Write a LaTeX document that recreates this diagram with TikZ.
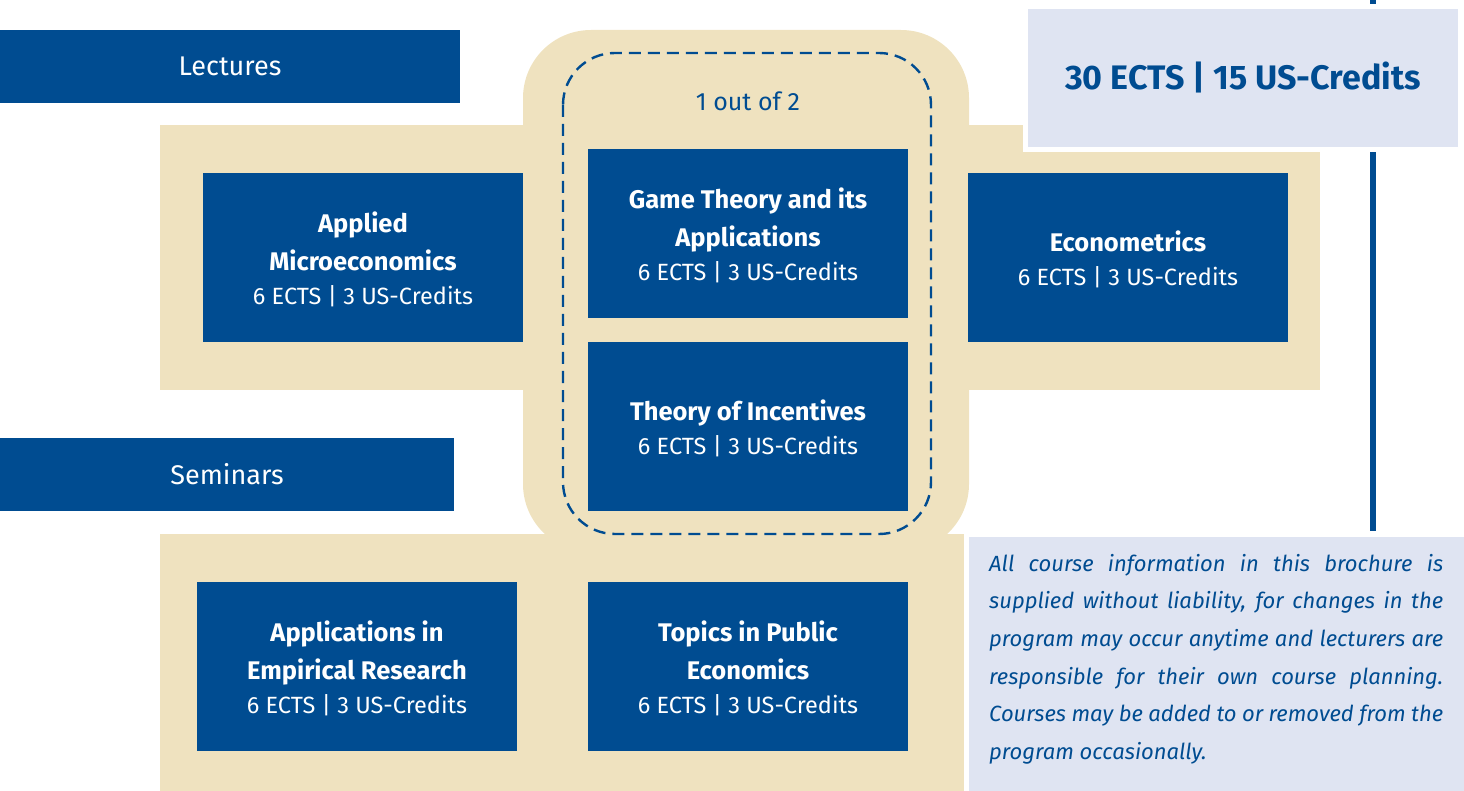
\documentclass[tikz,border=0pt]{standalone}
\usepackage{fontspec}
\setmainfont{Fira Sans}
\definecolor{uniblue}{HTML}{004C91}
\definecolor{beige}{HTML}{EFE2BF}
\definecolor{paleblue}{HTML}{DFE4F2}
\newcommand\ttl[1]{{\bfseries\fontsize{25.5}{34}\selectfont #1}}
\newcommand\topstrut{\rule{0pt}{25pt}}
\tikzset{
  course/.style={fill=uniblue, text=white, minimum width=320pt, minimum height=169pt,
    inner sep=0pt, align=center, font=\fontsize{23.5}{34}\selectfont},
  catbar/.style={fill=uniblue, text=white, minimum height=73pt, inner sep=0pt,
    font=\fontsize{27}{34}\selectfont},
  palebox/.style={fill=paleblue, draw=white, line width=5pt, inner sep=0pt},
  beigearea/.style={fill=beige},
  choiceline/.style={draw=uniblue, line width=2.4pt, dash pattern=on 12pt off 7pt, rounded corners=52pt},
}
\begin{document}
\begin{tikzpicture}[x=1pt,y=-1pt]
\useasboundingbox (0,0) rectangle (1464,791);
% vertical rule
\coordinate (vtop) at (1372.5,0);
\coordinate (vbot) at (1372.5,531);
\draw[uniblue, line width=6pt] (vtop) -- (vbot);
% beige areas
\fill[beigearea] (160,125) rectangle (1320,390);
\fill[beigearea, rounded corners=68pt] (523,30) rectangle (969,552);
\fill[beigearea] (160,534) rectangle (965,791);
% pale boxes
\node[palebox, minimum width=435pt, minimum height=143pt] (total) at (1243,78)
  {\color{uniblue}\bfseries\fontsize{34}{40}\selectfont 30 ECTS | 15 US-Credits};
\node[palebox, minimum width=503.5pt, minimum height=261.5pt] (infobox) at (1218.25,665.25) {};
\node[anchor=north west, inner sep=0pt, text width=454pt, align=justify, text=uniblue,
  font=\itshape\fontsize{22}{37.6}\selectfont] (disclaimer) at (989,554)
  {All course information in this brochure is\linebreak
   supplied without liability, for changes in the\linebreak
   program may occur anytime and lecturers are\linebreak
   responsible for their own course planning.\linebreak
   Courses may be added to or removed from the\linebreak
   program occasionally.};
% category bars
\node[catbar, minimum width=460pt] (lectures) at (230,66.5) {Lectures};
\node[catbar, minimum width=454pt] (seminars) at (227,474.5) {Seminars};
% courses
\node[course] (applied) at (363,257.5)
  {\topstrut\ttl{Applied}\\[4pt]\ttl{Microeconomics}\\6 ECTS | 3 US-Credits};
\node[course] (game) at (748,233.5)
  {\topstrut\ttl{Game Theory and its}\\[4pt]\ttl{Applications}\\6 ECTS | 3 US-Credits};
\node[course] (incentives) at (748,426.5)
  {\topstrut\ttl{Theory of Incentives}\\6 ECTS | 3 US-Credits};
\node[course] (econometrics) at (1128,257.5)
  {\topstrut\ttl{Econometrics}\\6 ECTS | 3 US-Credits};
\node[course] (empirical) at (357,666.5)
  {\topstrut\ttl{Applications in}\\[4pt]\ttl{Empirical Research}\\6 ECTS | 3 US-Credits};
\node[course] (public) at (748,666.5)
  {\topstrut\ttl{Topics in Public}\\[4pt]\ttl{Economics}\\6 ECTS | 3 US-Credits};
% choice frame
\draw[choiceline] (563,53) rectangle (931,534);
\node[text=uniblue, font=\fontsize{25}{30}\selectfont, inner sep=0pt] (choice) at (748,101) {1 out of 2};
\end{tikzpicture}
\end{document}
